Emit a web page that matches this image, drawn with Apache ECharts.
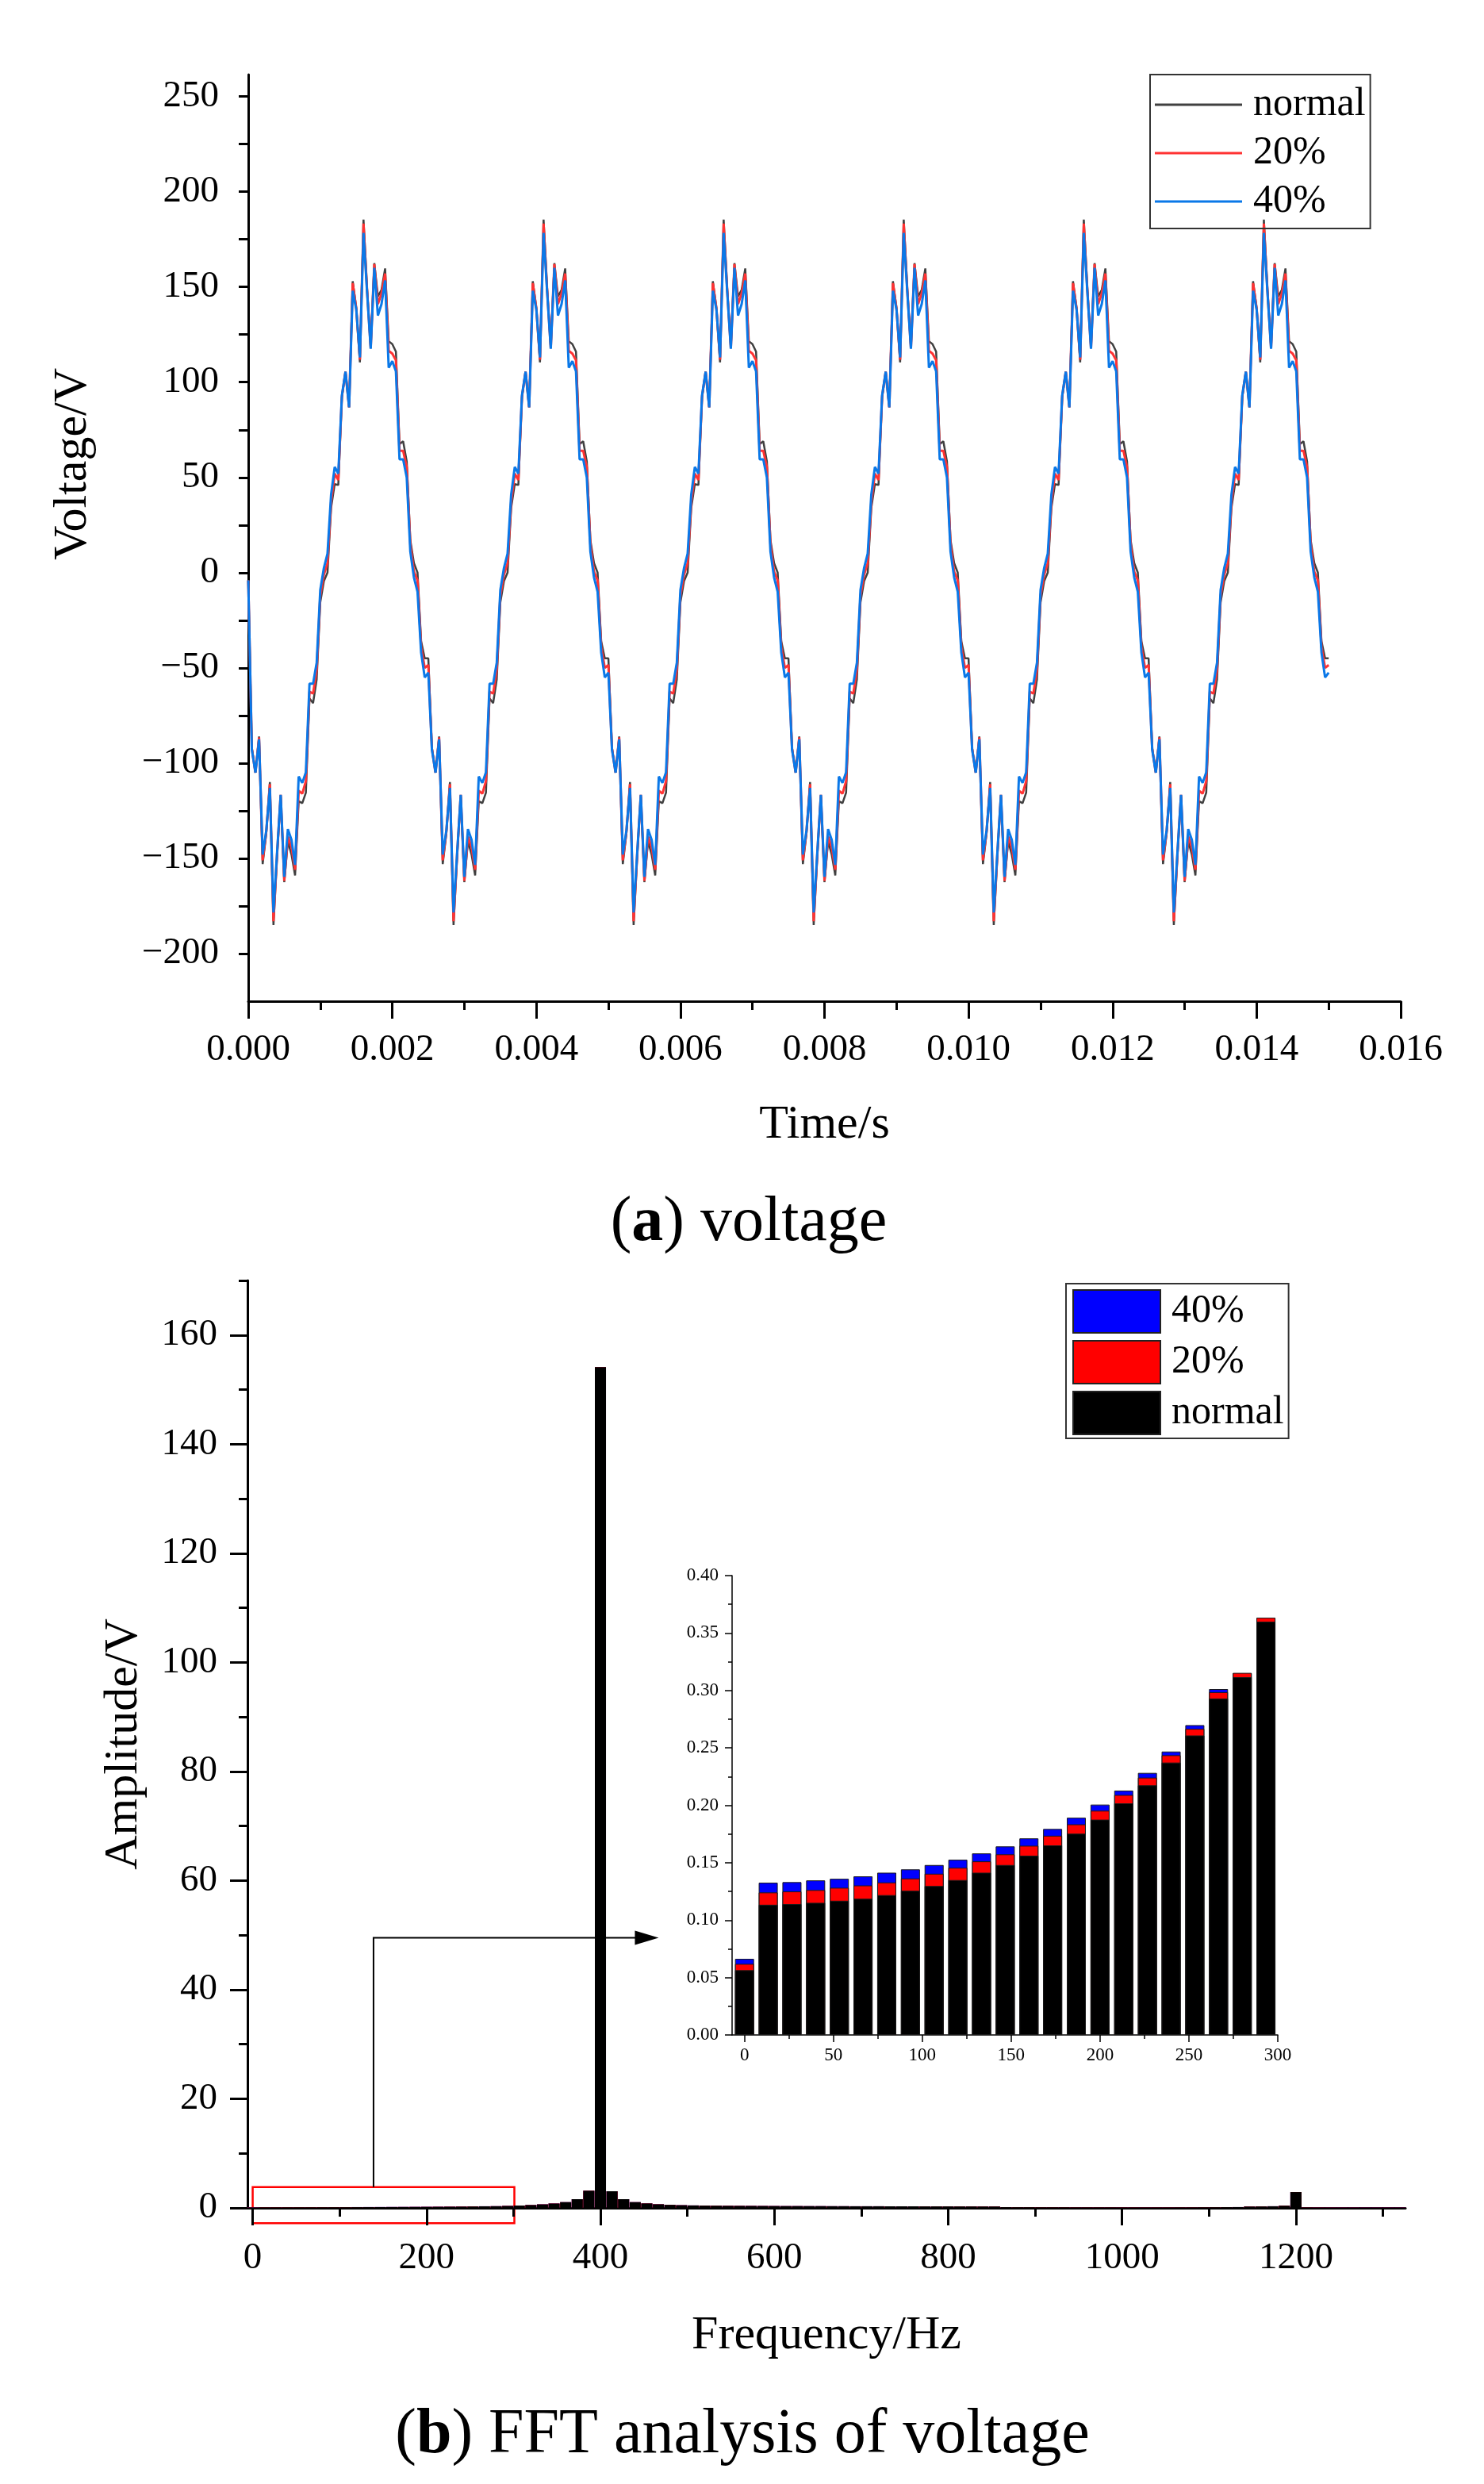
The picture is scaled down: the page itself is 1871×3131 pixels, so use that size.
<!DOCTYPE html>
<html>
<head>
<meta charset="utf-8">
<script src="https://cdn.jsdelivr.net/npm/echarts@6.0.0/dist/echarts.min.js"></script>
<style>
html, body { margin: 0; padding: 0; background: #fff; }
#main { width: 1871px; height: 3131px; }
</style>
</head>
<body>
<div id="main"></div>
<script>
// (a) voltage: sampled every 0.05 ms, one period (2.5 ms) = 50 samples, repeated 6 times
var sampleStep = 0.00005;
var sampleCount = 301;
var firstSample = -4;
var periodNormal = [
    -45, -92, -105, -86, -153, -137, -110, -185, -149, -117,
    -162.5, -141, -148, -159, -120, -121, -115.5, -66, -68.5, -56,
    -15.5, -4.5, 0, 34, 46.5, 46, 92, 105.5, 86.8, 153,
    139, 110.4, 185.4, 149, 118, 162.5, 145, 148.5, 159.7, 121.5,
    120, 116, 67.5, 69, 58.5, 17, 5, 0, -36, -45
];
var period20 = [
    -48.5, -92.5, -105, -86.5, -151, -136, -111, -183, -148, -116.6,
    -161.8, -138.5, -144, -156, -114.5, -116, -109.5, -62.5, -63.5, -51,
    -12, -1, 5, 37, 52, 48.6, 92.5, 105.5, 86.8, 152,
    138.5, 111.8, 183.3, 148, 118, 162, 141, 146.5, 157, 116.5,
    115, 111.5, 64, 64, 55.5, 15, 0.5, -4, -39, -50
];
var period40 = [
    -52.5, -93, -105, -87.5, -148, -135.4, -113, -178.4, -147, -116.6,
    -159.7, -134.7, -140.2, -153.4, -107, -110.4, -104.8, -58.3, -58.3, -47.2,
    -9, 2.5, 10, 41, 55.5, 52, 93, 105.5, 86.8, 148,
    138, 113, 178.4, 147, 117.5, 160, 135, 141, 153.4, 107.6,
    111, 105.7, 59.5, 59.5, 50, 11, -2.5, -10, -42, -55
];
var voltageTicks = [-200, -175, -150, -125, -100, -75, -50, -25, 0, 25, 50, 75, 100, 125, 150, 175, 200, 225, 250];
var voltageLabels = [-200, -150, -100, -50, 0, 50, 100, 150, 200, 250];

// (b) FFT: bins 40/3 Hz apart
var binStep = 40 / 3;
// 0 .. 293.3 Hz (the inset)
var lowNormal = [0.0564, 0.1134, 0.114, 0.1151, 0.1169, 0.1186, 0.1218, 0.1256, 0.1297, 0.1349, 0.1413, 0.148,
    0.1561, 0.1651, 0.1753, 0.1875, 0.2017, 0.2174, 0.2372, 0.2608, 0.293, 0.3116, 0.3599];
var low20 = [0.0619, 0.1241, 0.125, 0.1262, 0.1282, 0.1302, 0.1328, 0.1363, 0.1404, 0.1456, 0.1512, 0.1573,
    0.1648, 0.1735, 0.1834, 0.1953, 0.209, 0.2241, 0.2436, 0.2666, 0.2985, 0.3153, 0.3634];
var low40 = [0.0663, 0.1326, 0.1331, 0.1346, 0.136, 0.1381, 0.1413, 0.1442, 0.148, 0.1526, 0.1581, 0.1642,
    0.1712, 0.1794, 0.1892, 0.2006, 0.2128, 0.2282, 0.2468, 0.2698, 0.3012, 0.315, 0.363];
// 306.7 .. 1320 Hz, the three cases coincide at this scale
var highAll = [
    0.43, 0.52, 0.64, 0.80, 1.05, 1.60, 3.15, 154.1, 3.05, 1.60,
    1.05, 0.82, 0.66, 0.56, 0.49, 0.45, 0.42, 0.40, 0.38, 0.37,
    0.36, 0.35, 0.34, 0.33, 0.33, 0.32, 0.32, 0.31, 0.31, 0.30,
    0.30, 0.30, 0.29, 0.29, 0.29, 0.28, 0.28, 0.28, 0.27, 0.27,
    0.26, 0.26, 0.14, 0.13, 0.13, 0.12, 0.12, 0.12, 0.11, 0.11,
    0.11, 0.11, 0.10, 0.10, 0.10, 0.10, 0.10, 0.11, 0.11, 0.12,
    0.13, 0.14, 0.15, 0.25, 0.27, 0.30, 0.40, 2.9, 0.10, 0.08,
    0.07, 0.06, 0.06, 0.05, 0.05, 0.05, 0.05
];
var freqTicks = [0, 200, 400, 600, 800, 1000, 1200];
var freqMinorTicks = [100, 300, 500, 700, 900, 1100, 1300];
var ampTicks = [0, 20, 40, 60, 80, 100, 120, 140, 160];
var ampMinorTicks = [10, 30, 50, 70, 90, 110, 130, 150, 170];
var insetTicks = [0, 50, 100, 150, 200, 250, 300];
var insetMinorTicks = [25, 75, 125, 175, 225, 275];

// marked region and arrow (data coords of the main FFT plot)
var zoomBox = [0, 301, -2.8, 3.8];
var arrowPath = [[139, 3.8], [139, 49.5], [467, 49.5]];

var FONT = '"Liberation Serif", "Times New Roman", serif';

function wave(period) {
    var out = [];
    for (var i = 0; i < sampleCount; i++) {
        out.push([+(i * sampleStep).toFixed(5), i === 0 ? firstSample : period[i % period.length]]);
    }
    return out;
}
function bins(values) {
    return values.map(function (v, k) { return [k * binStep, v]; });
}
function minus(v) {
    return v < 0 ? '\u2212' + (-v) : String(v);
}
function plain(v) {
    return String(v);
}

var fftNormal = lowNormal.concat(highAll);
var fft20 = low20.concat(highAll);
var fft40 = low40.concat(highAll);

var black = { color: '#000', width: 3 };
var tickStyle = { color: '#000', width: 3 };
var labelStyle = { color: '#000', fontFamily: FONT, fontSize: 47 };
var nameStyle = { color: '#000', fontFamily: FONT, fontSize: 60 };

var chart = echarts.init(document.getElementById('main'), null, { renderer: 'canvas' });
chart.setOption({
    animation: false,
    backgroundColor: '#fff',
    grid: [
        { left: 313, top: 94, width: 1453, height: 1168 },
        { left: 312, top: 1614, width: 1460, height: 1169 },
        { left: 923, top: 1986, width: 688, height: 579 }
    ],
    legend: [
        {
            orient: 'vertical', left: 1450, top: 94,
            icon: 'rect', itemWidth: 110, itemHeight: 3, itemGap: 11,
            padding: [13, 6, 9, 6], borderColor: '#333', borderWidth: 2,
            textStyle: { color: '#000', fontFamily: FONT, fontSize: 50, lineHeight: 50, padding: [0, 0, 0, 9] },
            data: [
                { name: 'normal', itemStyle: { color: '#404040', borderWidth: 0 } },
                { name: '20%', itemStyle: { color: '#ff3333', borderWidth: 0 } },
                { name: '40%', itemStyle: { color: '#0a78e8', borderWidth: 0 } }
            ]
        },
        {
            orient: 'vertical', left: 1344, top: 1618,
            icon: 'rect', itemWidth: 110, itemHeight: 54, itemGap: 8,
            padding: [7, 6, 4, 8], borderColor: '#333', borderWidth: 2,
            textStyle: { color: '#000', fontFamily: FONT, fontSize: 50, lineHeight: 50, padding: [0, 0, 0, 9] },
            data: [
                { name: '40%', itemStyle: { color: '#0000ff', borderColor: '#222', borderWidth: 2 } },
                { name: '20%', itemStyle: { color: '#ff0000', borderColor: '#222', borderWidth: 2 } },
                { name: 'normal', itemStyle: { color: '#000000', borderColor: '#222', borderWidth: 2 } }
            ]
        }
    ],
    xAxis: [
        {
            type: 'value', gridIndex: 0, min: 0, max: 0.016, interval: 0.002,
            axisLine: { onZero: false, lineStyle: black },
            axisTick: { length: 22, lineStyle: tickStyle },
            minorTick: { show: true, splitNumber: 2, length: 11, lineStyle: tickStyle },
            axisLabel: Object.assign({ margin: 38, formatter: function (v) { return v.toFixed(3); } }, labelStyle),
            splitLine: { show: false },
            name: 'Time/s', nameLocation: 'middle', nameGap: 126, nameTextStyle: nameStyle
        },
        {
            type: 'value', gridIndex: 1, min: -6, max: 1326,
            axisLine: { onZero: false, lineStyle: black },
            axisTick: { customValues: freqTicks, length: 22, lineStyle: tickStyle },
            axisLabel: Object.assign({ customValues: freqTicks, margin: 40, formatter: plain }, labelStyle),
            splitLine: { show: false },
            name: 'Frequency/Hz', nameLocation: 'middle', nameGap: 131, nameTextStyle: nameStyle
        },
        {
            type: 'value', gridIndex: 1, position: 'bottom', min: -6, max: 1326,
            axisLine: { show: false, onZero: false },
            axisTick: { customValues: freqMinorTicks, length: 11, lineStyle: tickStyle },
            axisLabel: { show: false },
            splitLine: { show: false }
        },
        {
            type: 'value', gridIndex: 2, min: -7, max: 300,
            axisLine: { onZero: false, lineStyle: { color: '#000', width: 1.5 } },
            axisTick: { customValues: insetTicks, length: 9, lineStyle: { color: '#000', width: 1.5 } },
            axisLabel: { customValues: insetTicks, margin: 14, color: '#000', fontFamily: FONT, fontSize: 23, formatter: plain },
            splitLine: { show: false }
        },
        {
            type: 'value', gridIndex: 2, position: 'bottom', min: -7, max: 300,
            axisLine: { show: false, onZero: false },
            axisTick: { customValues: insetMinorTicks, length: 5, lineStyle: { color: '#000', width: 1.5 } },
            axisLabel: { show: false },
            splitLine: { show: false }
        }
    ],
    yAxis: [
        {
            type: 'value', gridIndex: 0, min: -225, max: 261.5,
            axisLine: { show: true, onZero: false, lineStyle: black },
            axisTick: { show: true, customValues: voltageTicks, length: 12, lineStyle: tickStyle },
            axisLabel: Object.assign({ customValues: voltageLabels, margin: 37, formatter: minus }, labelStyle),
            splitLine: { show: false },
            name: 'Voltage/V', nameLocation: 'middle', nameGap: 191, nameRotate: 90,
            nameTextStyle: Object.assign({ padding: [0, 0, 0, 186] }, nameStyle)
        },
        {
            type: 'value', gridIndex: 1, min: 0, max: 170,
            axisLine: { show: true, onZero: false, lineStyle: black },
            axisTick: { show: true, customValues: ampTicks, length: 22, lineStyle: tickStyle },
            axisLabel: Object.assign({ customValues: ampTicks, margin: 38, formatter: plain }, labelStyle),
            splitLine: { show: false },
            name: 'Amplitude/V', nameLocation: 'middle', nameGap: 126, nameRotate: 90, nameTextStyle: nameStyle
        },
        {
            type: 'value', gridIndex: 1, position: 'left', min: 0, max: 170,
            axisLine: { show: false, onZero: false },
            axisTick: { show: true, customValues: ampMinorTicks, length: 11, lineStyle: tickStyle },
            axisLabel: { show: false },
            splitLine: { show: false }
        },
        {
            type: 'value', gridIndex: 2, min: 0, max: 0.4, interval: 0.05,
            axisLine: { show: true, onZero: false, lineStyle: { color: '#000', width: 1.5 } },
            axisTick: { show: true, length: 9, lineStyle: { color: '#000', width: 1.5 } },
            minorTick: { show: true, splitNumber: 2, length: 5, lineStyle: { color: '#000', width: 1.5 } },
            axisLabel: { margin: 17, color: '#000', fontFamily: FONT, fontSize: 23, formatter: function (v) { return v.toFixed(2); } },
            splitLine: { show: false }
        }
    ],
    series: [
        { name: 'normal', type: 'line', xAxisIndex: 0, yAxisIndex: 0, data: wave(periodNormal),
          symbol: 'none', lineStyle: { color: '#404040', width: 2.5 }, itemStyle: { color: '#404040' } },
        { name: '20%', type: 'line', xAxisIndex: 0, yAxisIndex: 0, data: wave(period20),
          symbol: 'none', lineStyle: { color: '#ff3333', width: 3 }, itemStyle: { color: '#ff3333' } },
        { name: '40%', type: 'line', xAxisIndex: 0, yAxisIndex: 0, data: wave(period40),
          symbol: 'none', lineStyle: { color: '#0a78e8', width: 3 }, itemStyle: { color: '#0a78e8' } },

        { name: '40%', type: 'bar', xAxisIndex: 1, yAxisIndex: 1, data: bins(fft40), barWidth: 14, barGap: '-100%',
          itemStyle: { color: '#0000ff' } },
        { name: '20%', type: 'bar', xAxisIndex: 1, yAxisIndex: 1, data: bins(fft20), barWidth: 14, barGap: '-100%',
          itemStyle: { color: '#ff0000' } },
        { name: 'normal', type: 'bar', xAxisIndex: 1, yAxisIndex: 1, data: bins(fftNormal), barWidth: 14, barGap: '-100%',
          itemStyle: { color: '#000000' } },

        { name: '40%', type: 'bar', xAxisIndex: 3, yAxisIndex: 3, data: bins(low40), barWidth: 24, barGap: '-100%',
          itemStyle: { color: '#0000ff', borderColor: '#1a1a1a', borderWidth: 1 } },
        { name: '20%', type: 'bar', xAxisIndex: 3, yAxisIndex: 3, data: bins(low20), barWidth: 24, barGap: '-100%',
          itemStyle: { color: '#ff0000', borderColor: '#1a1a1a', borderWidth: 1 } },
        { name: 'normal', type: 'bar', xAxisIndex: 3, yAxisIndex: 3, data: bins(lowNormal), barWidth: 24, barGap: '-100%',
          itemStyle: { color: '#000000', borderColor: '#1a1a1a', borderWidth: 1 } }
    ]
});

// annotations placed through the FFT plot's own scales
function px(x, y) {
    return chart.convertToPixel({ xAxisIndex: 1, yAxisIndex: 1 }, [x, y]);
}
var b0 = px(zoomBox[0], zoomBox[3]);
var b1 = px(zoomBox[1], zoomBox[2]);
var pts = arrowPath.map(function (p) { return px(p[0], p[1]); });
var tip = pts[pts.length - 1];
var headLen = 30, headHalf = 9;
var shaft = pts.slice(0, -1).concat([[tip[0] - headLen + 2, tip[1]]]);

function caption(letter, rest, x, y) {
    return {
        type: 'text', x: x, y: y, silent: true,
        style: {
            text: '{n|(}{b|' + letter + '}{n|) ' + rest + '}',
            align: 'center', verticalAlign: 'middle',
            rich: {
                n: { fontFamily: FONT, fontSize: 80, fill: '#000' },
                b: { fontFamily: FONT, fontSize: 80, fontWeight: 'bold', fill: '#000' }
            }
        }
    };
}

chart.setOption({
    graphic: [
        {
            type: 'rect', silent: true,
            shape: { x: b0[0], y: b0[1], width: b1[0] - b0[0], height: b1[1] - b0[1] },
            style: { fill: 'none', stroke: '#ff0000', lineWidth: 2.5 }
        },
        {
            type: 'polyline', silent: true,
            shape: { points: shaft },
            style: { fill: 'none', stroke: '#000', lineWidth: 2 }
        },
        {
            type: 'polygon', silent: true,
            shape: { points: [[tip[0], tip[1]], [tip[0] - headLen, tip[1] - headHalf], [tip[0] - headLen, tip[1] + headHalf]] },
            style: { fill: '#000' }
        },
        caption('a', 'voltage', 944, 1542),
        caption('b', 'FFT analysis of voltage', 936, 3070)
    ]
});
</script>
</body>
</html>
